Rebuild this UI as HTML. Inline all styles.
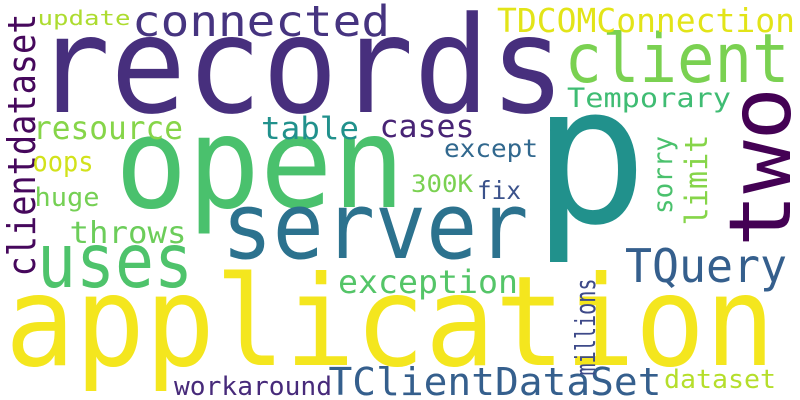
<!DOCTYPE html>
<html><head><meta charset="utf-8"><style>
html,body{margin:0;padding:0;background:#fff;}
svg{display:block;}
text{font-family:"DejaVu Sans Mono","Liberation Mono",monospace;}
</style></head><body>
<svg id="cloud" width="800" height="400" viewBox="0 0 800 400" xmlns="http://www.w3.org/2000/svg">
<rect width="800" height="400" fill="#fff"/>
</svg>
<script>
const words = ["records","application","p","open","server","uses","two","client","connected","TQuery","TClientDataSet","TDCOMConnection","Temporary","update","clientdataset","resource","table","cases","oops","except","huge","300K","fix","throws","sorry","limit","exception","millions","workaround","dataset"];
const sizes = [134,125,192,127,92,75,86,68,43,46,38,33,27,20,38,32,31,31,28,25,26,24,25,30,27,31,32,28,26,26];
const colors = ["#472f7d","#f4e61e","#21918c","#4ac16d","#2c728e","#4ec36b","#440154","#7ad151","#463480","#355f8d","#355f8d","#e2e418","#3fbc73","#addc30","#46085c","#86d549","#21918c","#482475","#d2e21b","#31688e","#75d054","#7ad151","#3b528b","#6ccd5a","#4ac16d","#86d549","#54c568","#3e4a89","#472a7a","#b5de2b"];
// layout: [centerX, baselineY, inkLength, rotated]
const layout = [
 [300,112,520,0],[390,365,760,0],[590,222,0,0],[260,207,280,0],[375,258,300,0],
 [115,287,150,0],[790,167,153,1],[677,82,220,0],[261,36,255,0],[706,282,158,0],
 [495,395,330,0],[646,32,295,0],[649,107,162,0],[84,25,91,0],[35,145,260,1],
 [108,139,147,0],[310,139,96,0],[427,137,93,0],[63,171,59,0],[491,157,92,0],
 [67,206,63,0],[442,192,60,0],[499,199,42,0],[128,243,115,0],[672,175,76,1],
 [707,180,89,1],[428,293,177,0],[595,327,95,1],[253,395,156,0],[720,388,110,0]
];
const svg = document.getElementById('cloud');
const NS = "http://www.w3.org/2000/svg";
words.forEach((w,i)=>{
  const [cx,by,len,rot] = layout[i];
  const t = document.createElementNS(NS,'text');
  t.textContent = w;
  t.setAttribute('font-size', sizes[i]);
  t.setAttribute('fill', colors[i]);
  t.setAttribute('text-anchor','middle');
  if(len>0){
    t.setAttribute('textLength', Math.round(len + sizes[i]*0.08));
    t.setAttribute('lengthAdjust','spacingAndGlyphs');
  }
  if(rot){
    t.setAttribute('x',0); t.setAttribute('y',0);
    t.setAttribute('transform','translate('+cx+','+by+') rotate(-90)');
  } else {
    t.setAttribute('x',cx); t.setAttribute('y',by);
  }
  
  
  svg.appendChild(t);
});
</script>
</body></html>
